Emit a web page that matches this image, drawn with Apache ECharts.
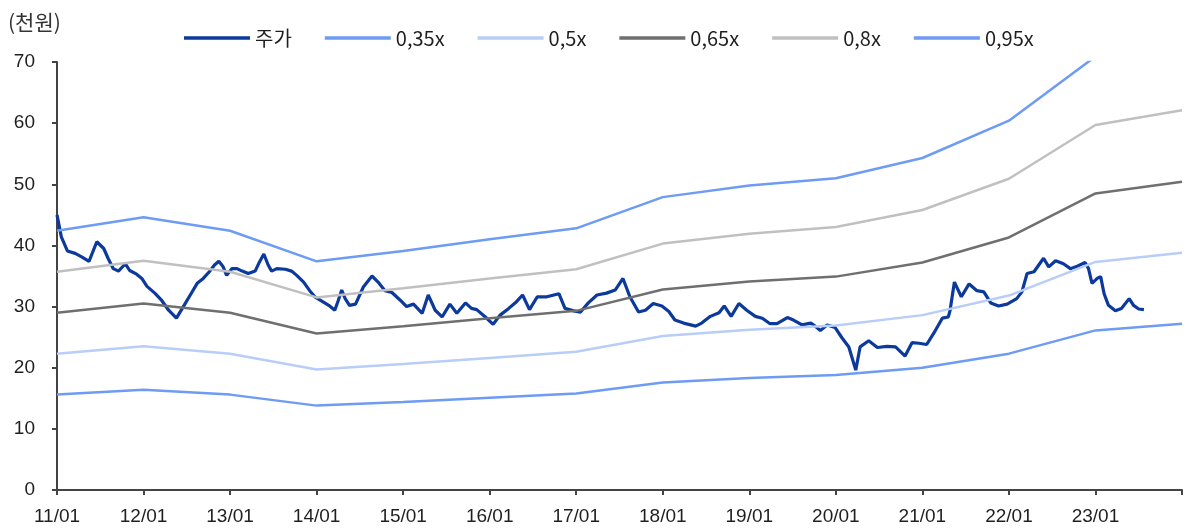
<!DOCTYPE html>
<html>
<head>
<meta charset="utf-8">
<script src="https://cdn.jsdelivr.net/npm/echarts@6/dist/echarts.min.js"></script>
<style>
  html, body { margin: 0; padding: 0; background: #fff; }
  #chart { width: 1188px; height: 531px; }
</style>
</head>
<body>
<div id="chart"></div>
<script>
// Year-start points for the PBR band lines
const bandYears = [2011, 2012, 2013, 2014, 2015, 2016, 2017, 2018, 2019, 2020, 2021, 2022, 2023, 2024];
const band035 = [15.6, 16.4, 15.6, 13.8, 14.4, 15.1, 15.8, 17.6, 18.3, 18.8, 20.0, 22.3, 26.1, 27.2];
const band050 = [22.3, 23.5, 22.3, 19.7, 20.6, 21.6, 22.6, 25.2, 26.2, 26.9, 28.6, 31.8, 37.3, 38.8];
const band065 = [29.0, 30.5, 29.0, 25.6, 26.8, 28.1, 29.3, 32.8, 34.1, 34.9, 37.2, 41.3, 48.5, 50.4];
const band080 = [35.7, 37.5, 35.7, 31.5, 33.0, 34.6, 36.1, 40.3, 41.9, 43.0, 45.8, 50.9, 59.7, 62.1];
const band095 = [42.4, 44.6, 42.4, 37.4, 39.1, 41.0, 42.8, 47.9, 49.8, 51.0, 54.3, 60.4, 70.9, 73.7];

// Share price (thousand won), time as decimal years
const priceTime = [
  2011.00, 2011.05, 2011.12, 2011.21, 2011.29, 2011.37, 2011.46, 2011.54, 2011.59, 2011.65,
  2011.71, 2011.79, 2011.84, 2011.92, 2011.98, 2012.04, 2012.13, 2012.21, 2012.29, 2012.38,
  2012.46, 2012.54, 2012.62, 2012.69, 2012.76, 2012.82, 2012.87, 2012.92, 2012.96, 2013.02,
  2013.08, 2013.14, 2013.21, 2013.29, 2013.34, 2013.39, 2013.44, 2013.48, 2013.54, 2013.64,
  2013.71, 2013.77, 2013.85, 2013.92, 2013.98, 2014.06, 2014.14, 2014.21, 2014.25, 2014.29,
  2014.33, 2014.38, 2014.45, 2014.54, 2014.64, 2014.71, 2014.79, 2014.87, 2014.97, 2015.04,
  2015.12, 2015.22, 2015.29, 2015.37, 2015.45, 2015.54, 2015.62, 2015.72, 2015.79, 2015.85,
  2015.95, 2016.04, 2016.12, 2016.22, 2016.31, 2016.38, 2016.46, 2016.55, 2016.66, 2016.80,
  2016.87, 2016.97, 2017.05, 2017.14, 2017.24, 2017.35, 2017.45, 2017.54, 2017.62, 2017.72,
  2017.80, 2017.89, 2017.99, 2018.07, 2018.14, 2018.24, 2018.38, 2018.45, 2018.55, 2018.65,
  2018.71, 2018.79, 2018.88, 2018.97, 2019.07, 2019.15, 2019.24, 2019.32, 2019.44, 2019.51,
  2019.61, 2019.71, 2019.76, 2019.82, 2019.90, 2019.99, 2020.07, 2020.15, 2020.23, 2020.28,
  2020.38, 2020.48, 2020.59, 2020.69, 2020.80, 2020.88, 2020.96, 2021.05, 2021.13, 2021.23,
  2021.30, 2021.32, 2021.37, 2021.45, 2021.54, 2021.63, 2021.71, 2021.79, 2021.88, 2021.98,
  2022.09, 2022.15, 2022.21, 2022.29, 2022.40, 2022.46, 2022.54, 2022.63, 2022.71, 2022.79,
  2022.88, 2022.92, 2022.96, 2023.02, 2023.06, 2023.10, 2023.15, 2023.23, 2023.30, 2023.39,
  2023.44, 2023.50, 2023.56
];
const priceValue = [
  45.0, 41.4, 39.1, 38.7, 38.1, 37.4, 40.6, 39.5, 37.9, 36.2,
  35.8, 37.0, 35.9, 35.3, 34.6, 33.3, 32.2, 31.0, 29.4, 28.1,
  30.0, 31.9, 33.8, 34.6, 35.7, 36.8, 37.4, 36.5, 35.1, 36.2,
  36.2, 35.8, 35.4, 35.8, 37.3, 38.6, 36.8, 35.8, 36.2, 36.1,
  35.8, 35.1, 34.0, 32.6, 31.6, 30.9, 30.2, 29.4, 31.0, 32.7,
  31.3, 30.2, 30.4, 33.2, 35.0, 34.0, 32.6, 32.3, 31.0, 30.0,
  30.4, 28.9, 31.9, 29.4, 28.3, 30.4, 28.9, 30.6, 29.7, 29.5,
  28.3, 27.1, 28.6, 29.7, 30.8, 31.9, 29.5, 31.6, 31.6, 32.1,
  29.7, 29.3, 29.1, 30.6, 31.9, 32.2, 32.7, 34.6, 31.6, 29.1,
  29.4, 30.5, 30.1, 29.2, 27.8, 27.3, 26.8, 27.3, 28.4, 29.0,
  30.1, 28.4, 30.5, 29.4, 28.4, 28.1, 27.2, 27.2, 28.2, 27.8,
  27.0, 27.3, 26.8, 26.1, 27.0, 26.6, 24.9, 23.4, 19.6, 23.4,
  24.4, 23.3, 23.5, 23.4, 21.9, 24.1, 24.0, 23.8, 25.6, 28.1,
  28.3, 29.4, 34.0, 31.6, 33.7, 32.6, 32.4, 30.6, 30.1, 30.4,
  31.3, 32.4, 35.4, 35.7, 37.9, 36.5, 37.5, 37.0, 36.2, 36.6,
  37.2, 36.2, 33.8, 34.6, 34.9, 32.1, 30.2, 29.3, 29.7, 31.3,
  30.2, 29.6, 29.5
];

const seriesNames = ['주가', '0,35x', '0,5x', '0,65x', '0,8x', '0,95x'];
const seriesColors = ['#0b3a9c', '#6e9bf4', '#b9cdf9', '#6f6f6f', '#c0c0c0', '#6e9bf4'];

const FONT = '"Liberation Sans Narrow", "Arial Narrow", "Liberation Sans", Arial, sans-serif';
const TEXT = '#1f1f1f';

const pair = (xs, ys) => xs.map((x, i) => [x, ys[i]]);
const bandData = [band035, band050, band065, band080, band095];

const series = [
  {
    name: seriesNames[0],
    type: 'line',
    data: pair(priceTime, priceValue),
    symbol: 'none',
    lineStyle: { color: seriesColors[0], width: 3.2 },
    itemStyle: { color: seriesColors[0] },
    clip: true
  }
].concat(bandData.map((vals, i) => ({
  name: seriesNames[i + 1],
  type: 'line',
  data: pair(bandYears, vals),
  symbol: 'none',
  lineStyle: { color: seriesColors[i + 1], width: 2.5 },
  itemStyle: { color: seriesColors[i + 1] },
  clip: true
})));

const chart = echarts.init(document.getElementById('chart'), null, { renderer: 'canvas' });
chart.setOption({
  animation: false,
  backgroundColor: '#ffffff',
  title: {
    text: '(천원)',
    left: 3,
    top: 7,
    textStyle: { fontFamily: '"Noto Sans CJK KR", sans-serif', fontSize: 21, fontWeight: 'normal', color: '#333' }
  },
  legend: {
    left: 184,
    top: 28,
    padding: 0,
    icon: 'rect',
    itemWidth: 66,
    itemHeight: 3.5,
    itemGap: 33,
    data: seriesNames,
    textStyle: { fontFamily: '"Noto Sans CJK KR", ' + FONT, fontSize: 20, color: TEXT }
  },
  grid: { left: 57, right: 6, top: 62, bottom: 41, containLabel: false },
  xAxis: {
    type: 'value',
    min: 2011,
    max: 2024,
    interval: 1,
    axisLine: { lineStyle: { color: '#444', width: 2 } },
    axisTick: { show: true, length: 5, lineStyle: { color: '#444', width: 2 } },
    splitLine: { show: false },
    axisLabel: {
      margin: 17,
      fontFamily: FONT,
      fontSize: 19,
      color: TEXT,
      formatter: v => (v >= 2024 ? '' : String(v - 2000).padStart(2, '0') + '/01')
    }
  },
  yAxis: {
    type: 'value',
    min: 0,
    max: 70,
    interval: 10,
    axisLine: { show: true, lineStyle: { color: '#444', width: 2 } },
    axisTick: { show: true, length: 5, lineStyle: { color: '#444', width: 2 } },
    splitLine: { show: false },
    axisLabel: { margin: 22, fontFamily: FONT, fontSize: 19, color: TEXT }
  },
  series: series
});
</script>
</body>
</html>
